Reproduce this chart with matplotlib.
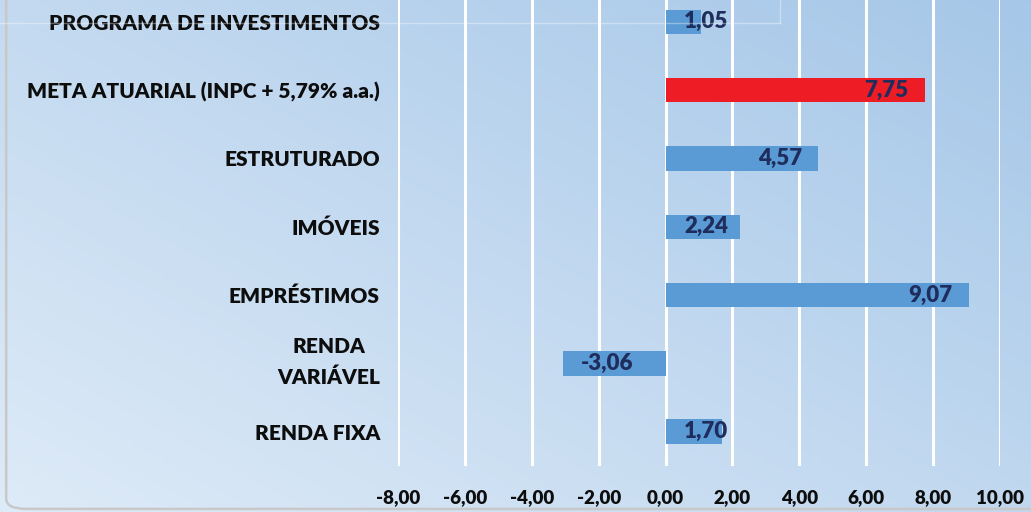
import numpy as np
import matplotlib
matplotlib.use("Agg")
import matplotlib.pyplot as plt
import matplotlib.transforms as mtransforms
from matplotlib.patches import FancyBboxPatch
from matplotlib.lines import Line2D

# data (bottom to top)
categories = ["RENDA FIXA", "RENDA\nVARIÁVEL", "EMPRÉSTIMOS", "IMÓVEIS",
              "ESTRUTURADO", "META ATUARIAL (INPC + 5,79% a.a.)",
              "PROGRAMA DE INVESTIMENTOS"]
values = [1.70, -3.06, 9.07, 2.24, 4.57, 7.75, 1.05]
bar_colors = ["#5B9BD5"] * 5 + ["#EE1C25", "#5B9BD5"]
xticks = [-8, -6, -4, -2, 0, 2, 4, 6, 8, 10]

plt.rcParams['font.family'] = ['Lato', 'DejaVu Sans']

fig = plt.figure(figsize=(10.31, 5.12), dpi=100)

# diagonal gradient background
bg = fig.add_axes([0, 0, 1, 1], zorder=-10)
gx, gy = np.meshgrid(np.linspace(0, 1, 300), np.linspace(0, 1, 150))
t = np.clip((gx * 1.0 + gy * 0.9) / 1.9, 0, 1)
c0 = np.array([0.87, 0.92, 0.97])
c1 = np.array([0.65, 0.78, 0.91])
img = c0[None, None, :] * (1 - t[..., None]) + c1[None, None, :] * t[..., None]
bg.imshow(img, origin="lower", extent=[0, 1, 0, 1], aspect="auto")
bg.set_xlim(0, 1)
bg.set_ylim(0, 1)
bg.axis("off")

# chart frame (rounded, only left/bottom visible)
frame = FancyBboxPatch((0.006, 0.006), 1.2, 1.2, boxstyle="round,pad=0,rounding_size=0.02",
                       transform=fig.transFigure, fill=False, ec="#C8C8C8", lw=1.8, zorder=-5)
fig.patches.append(frame)
fig.lines.append(Line2D([0.0, 0.757], [0.955, 0.955], transform=fig.transFigure,
                        color="white", alpha=0.35, lw=1))
fig.lines.append(Line2D([0.757, 0.757], [0.955, 1.0], transform=fig.transFigure,
                        color="white", alpha=0.35, lw=1))

ax = fig.add_axes([0.386, 0.090, 0.584, 0.910])
ax.patch.set_alpha(0)
y = np.arange(len(categories))
ax.barh(y, values, height=0.36, color=bar_colors, zorder=3)

ax.set_xlim(-8, 10)
ax.set_ylim(-0.5, 6.32)
ax.set_xticks(xticks)
ax.set_xticklabels([f"{v:.2f}".replace(".", ",") for v in xticks],
                   fontsize=13.5, fontweight="heavy", color="#0D0D0D")
ax.set_yticks(y)
ax.set_yticklabels(categories, fontsize=15, fontweight="heavy", color="#0D0D0D",
                   multialignment="center", linespacing=1.65)
ax.tick_params(axis="x", length=0, pad=17)
ax.tick_params(axis="y", length=0, pad=13)
ax.grid(axis="x", color="white", lw=2.2, zorder=1)
for s in ax.spines.values():
    s.set_visible(False)

# nudge the two-line label up a little
for lbl in ax.get_yticklabels():
    if "\n" in lbl.get_text():
        lbl.set_transform(lbl.get_transform() +
                          mtransforms.ScaledTranslation(0, 6 / 72, fig.dpi_scale_trans))

# value labels, inside end of bar
txt_w = 1.45
for yi, v in zip(y, values):
    lab = f"{v:.2f}".replace(".", ",")
    kw = dict(va="center", fontsize=16, fontweight="heavy", color="#1F2D5C", zorder=4)
    if v < 0:
        ax.text(v + 0.52, yi, lab, ha="left", **kw)
    elif v - 0.5 - txt_w < 0.55:
        ax.text(0.55, yi, lab, ha="left", **kw)
    else:
        ax.text(v - 0.5, yi, lab, ha="right", **kw)

fig.savefig("out.png", dpi=100)
